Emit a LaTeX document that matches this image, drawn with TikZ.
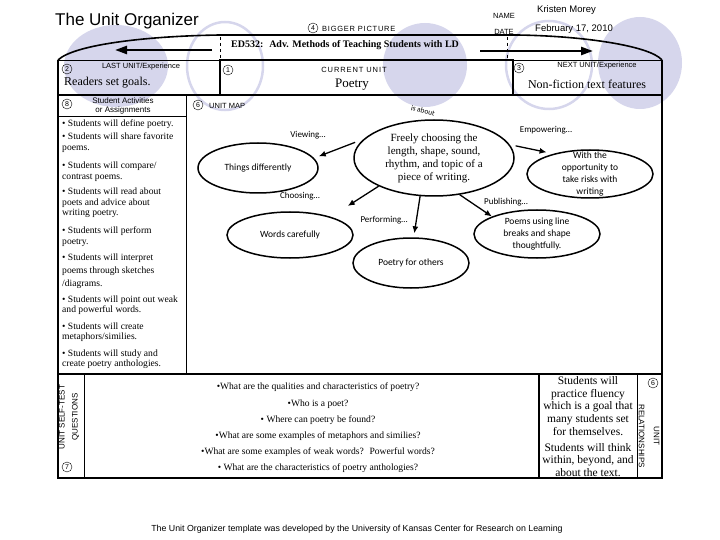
\documentclass[tikz,border=0pt]{standalone}
\usepackage{fontspec}
\setmainfont{Liberation Serif}
\setsansfont{Liberation Sans}
\newfontfamily\calibri{Carlito}
\usetikzlibrary{shapes.geometric,arrows.meta}
\definecolor{lavender}{RGB}{214,214,236}
\newcommand{\fs}[2]{\fontsize{#1}{#2}\selectfont}
\tikzset{
  OvalStyle/.style = {draw, ellipse, line width=1.5pt, inner sep=0pt},
  MapText/.style = {align=center, font=\calibri\fs{9.5}{12}},
  LinkStyle/.style = {-{Latex[length=7pt,width=6pt]}, line width=1.3pt},
  LinkLabel/.style = {font=\calibri\fs{9}{10}},
  NumStyle/.style = {draw, circle, inner sep=0pt, minimum size=10pt, font=\sffamily\fs{7}{7}},
  TagStyle/.style = {font=\sffamily\fs{7.5}{9}},
  BulletStyle/.style = {anchor=north west, align=left, inner sep=0pt, font=\fs{9.6}{10.5}},
  BlobStyle/.style = {fill=lavender},
  RingStyle/.style = {draw=lavender, line width=2.5pt}
}
\begin{document}
\begin{tikzpicture}[x=1pt,y=-1pt]
\useasboundingbox (0,0) rectangle (720,540);
% background ovals
\fill[BlobStyle] (116,66) ellipse [x radius=52pt, y radius=41pt];
\draw[RingStyle] (225,66) ellipse [x radius=38pt, y radius=44pt];
\fill[BlobStyle] (425,65) ellipse [x radius=42pt, y radius=42pt];
\draw[RingStyle] (549,65) ellipse [x radius=43pt, y radius=44pt];
\fill[BlobStyle] (640,63) ellipse [x radius=42pt, y radius=46pt];

% header
\node[font=\sffamily\fs{17}{17}, anchor=west, inner sep=0pt] (title) at (55,21) {The Unit Organizer};
\node[NumStyle] (n4) at (313,28) {4};
\node[TagStyle, anchor=west, inner sep=0pt] (bigger) at (322,29) {\addfontfeature{LetterSpace=10}BIGGER PICTURE};
\node[TagStyle] (namelbl) at (504,16) {NAME};
\node[TagStyle] (datelbl) at (504,32) {DATE};
\node[font=\sffamily\fs{9.5}{10}, anchor=west, inner sep=0pt] (name) at (537,10) {Kristen Morey};
\node[font=\sffamily\fs{9.5}{10}, anchor=west, inner sep=0pt] (date) at (535,29) {February 17, 2010};

% bigger picture banner
\draw[line width=1.6pt] (58,60) .. controls (75,44) and (150,36) .. (220,35) -- (517,35)
  .. controls (585,36) and (650,46) .. (662,60);
\draw[dashed] (220,37) -- (220,60);
\draw[dashed] (507,37) -- (507,60);
\node[font=\bfseries\fs{10}{10}, anchor=west, inner sep=0pt] (course) at (231,45) {ED532:~ Adv. Methods of Teaching Students with LD};
\draw[-{Triangle[length=12pt,width=8pt]}, line width=2.4pt] (212,50) -- (115,50);
\draw[-{Triangle[length=12pt,width=8pt]}, line width=2.4pt] (480,51) -- (593,51);

% unit row
\draw (58,60) -- (662,60);
\draw[line width=2.6pt] (220,60) rectangle (513,95);
\draw[line width=2.6pt] (58,95) -- (662,95);
\draw[line width=1.6pt] (58,60) -- (58,478) -- (662,478) -- (662,60);
\node[NumStyle] (n2) at (67,69) {2};
\node[TagStyle] (lastlbl) at (141,67) {LAST UNIT/Experience};
\node[font=\fs{12}{12}, anchor=west, inner sep=0pt] (last) at (64,83) {Readers set goals.};
\node[NumStyle] (n1) at (228,70) {1};
\node[TagStyle] (curlbl) at (354,70) {\addfontfeature{LetterSpace=12}CURRENT UNIT};
\node[font=\fs{13}{13}] (current) at (352,85) {Poetry};
\node[NumStyle] (n3) at (519,68) {3};
\node[TagStyle] (nextlbl) at (597,66) {NEXT UNIT/Experience};
\node[font=\fs{12}{12}] (next) at (587,84) {Non-fiction text features};

% student activities
\draw (186,95) -- (186,374);
\draw (58,116) -- (186,116);
\node[NumStyle] (n8) at (67,104) {8};
\node[align=center, font=\sffamily\fs{8}{8.5}] (acts) at (123,106) {Student Activities\\or Assignments};
\node[BulletStyle] (b1) at (62,119.5) {• Students will define poetry.};
\node[BulletStyle] (b2) at (62,133) {• Students will share favorite\\poems.};
\node[BulletStyle] (b3) at (62,162) {• Students will compare/\\contrast poems.};
\node[BulletStyle] (b4) at (62,188) {• Students will read about\\poets and advice about\\writing poetry.};
\node[BulletStyle, font=\fs{9.6}{11.5}] (b5) at (62,226.5) {• Students will perform\\poetry.};
\node[BulletStyle, font=\fs{9.6}{13}] (b6) at (62,254) {• Students will interpret\\poems through sketches\\/diagrams.};
\node[BulletStyle, font=\fs{9.6}{10}] (b7) at (62,296) {• Students will point out weak\\and powerful words.};
\node[BulletStyle] (b8) at (62,322.5) {• Students will create\\metaphors/similies.};
\node[BulletStyle] (b9) at (62,349.5) {• Students will study and\\create poetry anthologies.};

% unit map
\node[NumStyle] (n6) at (198,105) {6};
\node[TagStyle, anchor=west, inner sep=0pt] (maplbl) at (209,106) {UNIT MAP};
\node[OvalStyle, minimum width=160pt, minimum height=76pt] (core) at (434,158) {};
\node[align=center, font=\fs{11}{13}] (coretext) at (core) {Freely choosing the\\length, shape, sound,\\rhythm, and topic of a\\piece of writing.};
\node[OvalStyle, minimum width=120pt, minimum height=50pt] (things) at (258,168) {};
\node[MapText] (thingstext) at (things) {Things differently};
\node[OvalStyle, minimum width=126pt, minimum height=46pt] (words) at (290,235) {};
\node[MapText] (wordstext) at (words) {Words carefully};
\node[OvalStyle, minimum width=116pt, minimum height=50pt] (others) at (411,263) {};
\node[MapText] (otherstext) at (others) {Poetry for others};
\node[OvalStyle, minimum width=126pt, minimum height=48pt] (risk) at (590,174) {};
\node[MapText] (risktext) at (risk) {With the\\opportunity to\\take risks with\\writing};
\node[OvalStyle, minimum width=126pt, minimum height=48pt] (poems) at (537,234) {};
\node[MapText] (poemstext) at (poems) {Poems using line\\breaks and shape\\thoughtfully.};

\node[font=\calibri\fs{7.5}{7.5}, rotate=-15] (isabout) at (423,111) {is about};
\node[LinkLabel] (viewing) at (308,135) {Viewing…};
\node[LinkLabel] (choosing) at (300,196) {Choosing…};
\node[LinkLabel] (performing) at (384,220) {Performing…};
\node[LinkLabel] (publishing) at (506,202) {Publishing…};
\node[LinkLabel] (empowering) at (546,130) {Empowering…};
\draw[LinkStyle, shorten <=9pt, shorten >=5pt] (core.165) -- (things.10);
\draw[LinkStyle, shorten >=20pt] (core.207) -- (words.24);
\draw[LinkStyle, shorten >=4pt] (core.250) -- (others.84);
\draw[LinkStyle] (core.305) -- (poems.north west);
\draw[LinkStyle, shorten <=6pt, shorten >=7pt] (core.10) -- (risk.151);

% self-test questions and relationships
\draw[line width=2pt] (58,374) -- (662,374);
\draw (84,374) -- (84,478);
\draw[line width=1.2pt] (539,374) -- (539,478);
\draw (637,374) -- (637,478);
\node[font=\sffamily\fs{8}{13}, align=center, rotate=90] (selftest) at (69,417) {UNIT SELF-TEST\\QUESTIONS};
\node[NumStyle] (n7) at (67,467) {7};
\node[align=center, font=\fs{9.6}{16.2}] (questions) at (318,428) {•What are the qualities and characteristics of poetry?\\•Who is a poet?\\• Where can poetry be found?\\•What are some examples of metaphors and similies?\\•What are some examples of weak words?~ Powerful words?\\• What are the characteristics of poetry anthologies?};
\node[align=center, font=\fs{11.5}{12.8}] (fluency) at (588,406) {Students will\\practice fluency\\which is a goal that\\many students set\\for themselves.};
\node[align=center, font=\fs{11.5}{12.8}] (think) at (588,460) {Students will think\\within, beyond, and\\about the text.};
\node[font=\sffamily\fs{8}{15}, align=center, rotate=-90] (relations) at (649,436) {UNIT\\RELATIONSHIPS};
\node[NumStyle] (n6b) at (653,383) {6};

\node[font=\sffamily\fs{8.8}{9}] (credit) at (357,529) {The Unit Organizer template was developed by the University of Kansas Center for Research on Learning};
\end{tikzpicture}
\end{document}
